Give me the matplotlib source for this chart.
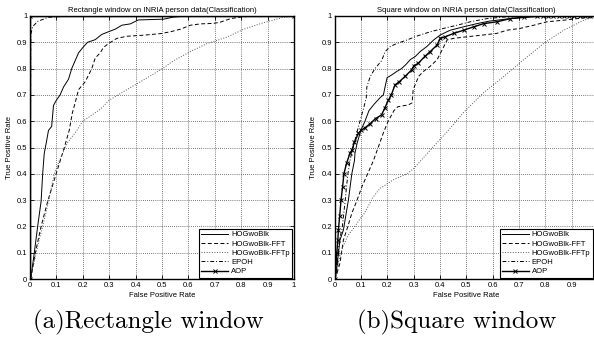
import matplotlib
matplotlib.use("Agg")
import matplotlib.pyplot as plt

# ---- Rectangle window (a) ----
rect_hog_x = [0, 0.004, 0.016, 0.029, 0.042, 0.048, 0.054, 0.062, 0.07, 0.082, 0.089, 0.1, 0.114,
              0.127, 0.146, 0.158, 0.171, 0.184, 0.2, 0.218, 0.247, 0.272, 0.297, 0.323, 0.348,
              0.38, 0.41, 0.506, 0.544, 0.595, 1.0]
rect_hog_y = [0, 0.008, 0.098, 0.2, 0.295, 0.40, 0.478, 0.52, 0.565, 0.58, 0.66, 0.68, 0.70,
              0.73, 0.76, 0.80, 0.83, 0.86, 0.88, 0.90, 0.91, 0.93, 0.94, 0.95, 0.965,
              0.97, 0.985, 0.988, 0.996, 1.0, 1.0]
rect_fft_x = [0, 0.004, 0.02, 0.042, 0.067, 0.099, 0.13, 0.149, 0.16, 0.171, 0.184, 0.209, 0.234,
              0.247, 0.266, 0.278, 0.297, 0.329, 0.367, 0.43, 0.494, 0.532, 0.57, 0.608, 0.646,
              0.696, 0.722, 0.76, 0.797, 0.85, 1.0]
rect_fft_y = [0, 0.008, 0.098, 0.2, 0.295, 0.40, 0.50, 0.567, 0.63, 0.67, 0.72, 0.75, 0.80,
              0.84, 0.86, 0.88, 0.895, 0.915, 0.923, 0.927, 0.933, 0.94, 0.95, 0.965, 0.97,
              0.972, 0.977, 0.99, 0.996, 1.0, 1.0]
rect_fftp_x = [0, 0.015, 0.035, 0.06, 0.092, 0.111, 0.143, 0.174, 0.2, 0.266, 0.3, 0.367, 0.43,
               0.494, 0.544, 0.608, 0.67, 0.747, 0.81, 0.886, 0.96, 1.0]
rect_fftp_y = [0, 0.06, 0.15, 0.25, 0.40, 0.45, 0.52, 0.56, 0.6, 0.645, 0.68, 0.72, 0.757,
               0.795, 0.83, 0.865, 0.895, 0.92, 0.95, 0.975, 0.995, 1.0]
rect_epoh_x = [0, 0.003, 0.01, 0.03, 0.07, 0.15, 1.0]
rect_epoh_y = [0, 0.93, 0.96, 0.98, 0.995, 1.0, 1.0]
rect_aop_x = [0, 0, 1.0]
rect_aop_y = [0, 1.0, 1.0]

# ---- Square window (b) ----
sq_hog_x = [0, 0.004, 0.01, 0.02, 0.033, 0.042, 0.052, 0.065, 0.075, 0.077, 0.085, 0.1, 0.115,
            0.13, 0.15, 0.173, 0.185, 0.192, 0.199, 0.218, 0.237, 0.254, 0.27, 0.287, 0.306,
            0.325, 0.35, 0.376, 0.401, 0.439, 0.49, 0.54, 0.59, 0.667, 0.743, 0.82, 1.0]
sq_hog_y = [0, 0.01, 0.06, 0.148, 0.186, 0.24, 0.30, 0.40, 0.45, 0.478, 0.516, 0.567, 0.60,
            0.64, 0.665, 0.69, 0.70, 0.734, 0.765, 0.777, 0.79, 0.80, 0.815, 0.834, 0.846,
            0.865, 0.884, 0.909, 0.928, 0.946, 0.959, 0.971, 0.981, 0.99, 0.996, 1.0, 1.0]
sq_fft_x = [0, 0.008, 0.02, 0.033, 0.05, 0.065, 0.085, 0.103, 0.125, 0.147, 0.165, 0.185, 0.203,
            0.225, 0.24, 0.28, 0.294, 0.298, 0.319, 0.338, 0.363, 0.389, 0.408, 0.427, 0.452,
            0.503, 0.566, 0.616, 0.654, 0.705, 0.756, 0.806, 0.87, 0.92, 0.97, 1.0]
sq_fft_y = [0, 0.02, 0.06, 0.148, 0.2, 0.25, 0.30, 0.35, 0.40, 0.45, 0.50, 0.556, 0.60,
            0.64, 0.655, 0.662, 0.67, 0.72, 0.771, 0.79, 0.809, 0.834, 0.871, 0.909, 0.915,
            0.921, 0.928, 0.934, 0.946, 0.953, 0.965, 0.978, 0.984, 0.99, 0.996, 1.0]
sq_fftp_x = [0, 0.01, 0.03, 0.05, 0.07, 0.097, 0.11, 0.147, 0.173, 0.224, 0.275, 0.3, 0.363,
             0.427, 0.49, 0.566, 0.629, 0.718, 0.794, 0.87, 0.946, 0.984, 1.0]
sq_fftp_y = [0, 0.05, 0.12, 0.165, 0.19, 0.23, 0.245, 0.313, 0.345, 0.378, 0.40, 0.42, 0.49,
             0.56, 0.634, 0.709, 0.759, 0.834, 0.896, 0.946, 0.984, 0.996, 1.0]
sq_epoh_x = [0, 0.008, 0.018, 0.028, 0.04, 0.05, 0.06, 0.07, 0.085, 0.096, 0.11, 0.12, 0.122,
             0.135, 0.153, 0.178, 0.192, 0.211, 0.237, 0.275, 0.313, 0.363, 0.414, 0.465, 0.515,
             0.578, 0.642, 0.718, 1.0]
sq_epoh_y = [0, 0.06, 0.15, 0.19, 0.30, 0.40, 0.46, 0.50, 0.56, 0.60, 0.65, 0.69, 0.73,
             0.77, 0.80, 0.83, 0.865, 0.884, 0.896, 0.909, 0.924, 0.94, 0.953, 0.965, 0.978,
             0.99, 0.996, 1.0, 1.0]
sq_aop_x = [0, 0.003, 0.005, 0.008, 0.012, 0.014, 0.019, 0.024, 0.03, 0.035, 0.045, 0.058, 0.065,
            0.075, 0.09, 0.1, 0.115, 0.134, 0.155, 0.178, 0.19, 0.204, 0.215, 0.229, 0.245,
            0.267, 0.292, 0.3, 0.317, 0.344, 0.363, 0.389, 0.401, 0.42, 0.452, 0.49, 0.528,
            0.566, 0.616, 0.667, 0.718, 0.77, 0.79, 0.81, 0.83, 0.85, 0.87, 0.89, 0.91, 0.93,
            0.95, 0.97, 1.0]
sq_aop_y = [0, 0.03, 0.06, 0.10, 0.15, 0.186, 0.24, 0.30, 0.35, 0.40, 0.44, 0.478, 0.49,
            0.52, 0.554, 0.565, 0.575, 0.59, 0.61, 0.624, 0.65, 0.68, 0.70, 0.738, 0.75,
            0.77, 0.795, 0.81, 0.82, 0.848, 0.865, 0.89, 0.915, 0.921, 0.934, 0.946, 0.959,
            0.971, 0.978, 0.99, 0.996, 1.0, 1.0, 1.0, 1.0, 1.0, 1.0, 1.0, 1.0, 1.0,
            1.0, 1.0, 1.0]

labels = ['HOGwoBlk', 'HOGwoBlk-FFT', 'HOGwoBlk-FFTp', 'EPOH', 'AOP']
ticks = [0, 0.1, 0.2, 0.3, 0.4, 0.5, 0.6, 0.7, 0.8, 0.9, 1]
tick_labels = ['0', '0.1', '0.2', '0.3', '0.4', '0.5', '0.6', '0.7', '0.8', '0.9', '1']

plt.rcParams['font.family'] = ['Liberation Sans', 'DejaVu Sans']
small = 5.5

fig = plt.figure(figsize=(5.94, 3.40), dpi=100)
ax1 = fig.add_axes([30 / 594, 61 / 340, 264 / 594, 263 / 340])
ax2 = fig.add_axes([334.7 / 594, 61 / 340, 263.3 / 594, 263 / 340])


def draw(ax, series, title, leg_x, xlabels):
    lw = 0.7
    (hx, hy), (fx, fy), (px, py), (ex, ey), (ax_, ay) = series
    ax.plot(hx, hy, '-', color='k', lw=lw, label=labels[0])
    ax.plot(fx, fy, '--', color='k', lw=lw, dashes=(4, 2.5), label=labels[1])
    ax.plot(px, py, ':', color='#555555', lw=lw, label=labels[2])
    ax.plot(ex, ey, '-.', color='k', lw=lw, dashes=(4, 2, 1, 2), label=labels[3])
    ax.plot(ax_, ay, '-', color='k', lw=1.0, marker='x', ms=2.5, mew=0.7, label=labels[4])
    ax.set_xlim(0, 1)
    ax.set_ylim(0, 1)
    ax.set_xticks(ticks)
    ax.set_xticklabels(xlabels)
    ax.set_yticks(ticks)
    ax.set_yticklabels(tick_labels)
    ax.tick_params(direction='in', length=3, width=0.6, labelsize=small, pad=2,
                   top=True, right=True)
    ax.grid(True, linestyle=(0, (1, 2)), color='k', lw=0.5)
    for s in ax.spines.values():
        s.set_linewidth(1.0)
    ax.set_title(title, fontsize=small, pad=3)
    ax.set_xlabel('False Positive Rate', fontsize=small, labelpad=2)
    ax.set_ylabel('True Positive Rate', fontsize=small, labelpad=3)
    leg = ax.legend(loc='lower right', bbox_to_anchor=(leg_x, 0.005), fontsize=small,
                    handlelength=3.5, labelspacing=0.25, borderpad=0.3, handletextpad=0.4,
                    fancybox=False, framealpha=1, edgecolor='k', borderaxespad=0)
    leg.get_frame().set_linewidth(0.8)


draw(ax1, [(rect_hog_x, rect_hog_y), (rect_fft_x, rect_fft_y), (rect_fftp_x, rect_fftp_y),
           (rect_epoh_x, rect_epoh_y), (rect_aop_x, rect_aop_y)],
     'Rectangle window on INRIA person data(Classification)', 0.993, tick_labels)
# the right panel is cropped just short of x = 1, so its last label is not shown
draw(ax2, [(sq_hog_x, sq_hog_y), (sq_fft_x, sq_fft_y), (sq_fftp_x, sq_fftp_y),
           (sq_epoh_x, sq_epoh_y), (sq_aop_x, sq_aop_y)],
     'Square window on INRIA person data(Classification)', 0.98, tick_labels[:-1] + [''])

fig.text(148 / 594, 1 - 322 / 340, '(a)Rectangle window', family='cmr10', fontsize=18,
         ha='center', va='center')
fig.text(457 / 594, 1 - 322 / 340, '(b)Square window', family='cmr10', fontsize=18,
         ha='center', va='center')

fig.savefig('out.png', dpi=100)
